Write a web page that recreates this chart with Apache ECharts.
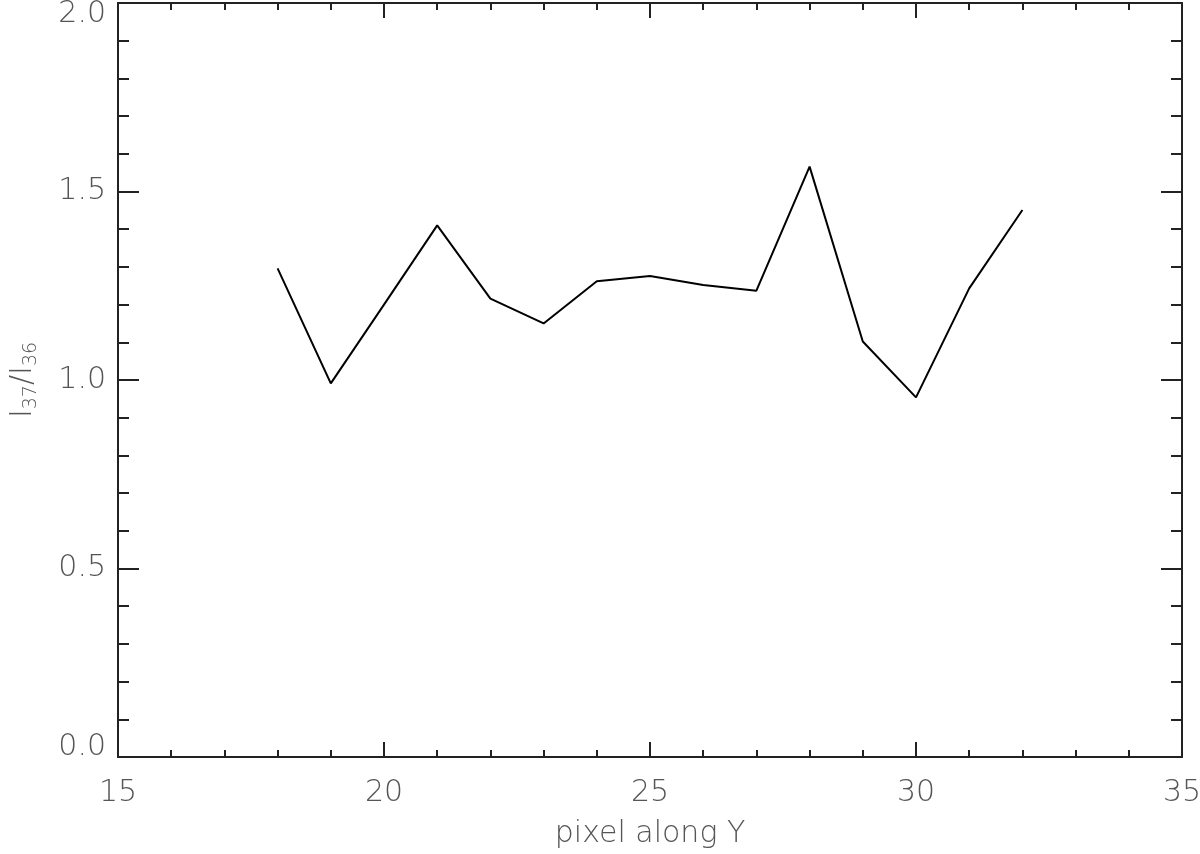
<!DOCTYPE html>
<html>
<head>
<meta charset="utf-8">
<script src="https://cdn.jsdelivr.net/npm/echarts@6/dist/echarts.min.js"></script>
<style>
  html, body { margin: 0; padding: 0; background: #fff; }
  #chart { width: 1200px; height: 854px; }
</style>
</head>
<body>
<div id="chart"></div>
<script>
// pixel position along Y and the I37/I36 intensity ratio
const pixels = [18, 19, 20, 21, 22, 23, 24, 25, 26, 27, 28, 29, 30, 31, 32];
const ratios = [1.296, 0.991, 1.200, 1.410, 1.216, 1.150, 1.262, 1.276, 1.252, 1.237, 1.566, 1.102, 0.954, 1.243, 1.451];

const font = 'DejaVu Sans';
const txt = '#555';
const ink = '#222';

let myChart = echarts.init(document.getElementById('chart'));

const xBase = {
    type: 'value', min: 15, max: 35, interval: 5,
    axisLine: { show: true, onZero: false, lineStyle: { color: ink, width: 2 } },
    axisTick: { show: true, inside: true, length: 15, lineStyle: { color: ink, width: 2 } },
    minorTick: { show: true, splitNumber: 5, length: 7, lineStyle: { color: ink, width: 2 } },
    splitLine: { show: false }
};
const yBase = {
    type: 'value', min: 0, max: 2, interval: 0.5,
    axisLine: { show: true, onZero: false, lineStyle: { color: ink, width: 2 } },
    axisTick: { show: true, inside: true, length: 21, lineStyle: { color: ink, width: 2 } },
    minorTick: { show: true, splitNumber: 5, length: 11, lineStyle: { color: ink, width: 2 } },
    splitLine: { show: false }
};

const lbl = { fontFamily: font, fontWeight: 200, fontSize: 30, color: txt };

myChart.setOption({
    animation: false,
    backgroundColor: '#fff',
    grid: { left: 118, right: 18, top: 3, bottom: 97, containLabel: false, outerBoundsMode: 'none' },
    xAxis: [
        Object.assign({}, xBase, {
            position: 'bottom',
            name: 'pixel along Y', nameLocation: 'middle', nameGap: 62,
            nameTextStyle: lbl,
            axisLabel: Object.assign({ margin: 21 }, lbl)
        }),
        Object.assign({}, xBase, { position: 'top', axisLabel: { show: false } })
    ],
    yAxis: [
        Object.assign({}, yBase, {
            position: 'left',
            name: '{m|I}{s|37}{m|/I}{s|36}', nameLocation: 'middle', nameGap: 80,
            nameTextStyle: {
                color: txt,
                rich: {
                    m: { fontFamily: font, fontWeight: 200, fontSize: 30, lineHeight: 30, color: txt, verticalAlign: 'top' },
                    s: { fontFamily: font, fontWeight: 200, fontSize: 19, lineHeight: 19, color: txt, padding: [17, 0, 0, 0] }
                }
            },
            axisLabel: Object.assign({
                margin: 12,
                formatter: v => {
                    const s = v.toFixed(1);
                    if (v === 2) return '{hi|' + s + '}';
                    if (v === 0) return '{lo|' + s + '}';
                    return s;
                },
                rich: {
                    hi: Object.assign({ lineHeight: 30, padding: [22, 0, 0, 0] }, lbl),
                    lo: Object.assign({ lineHeight: 30, padding: [0, 0, 20, 0] }, lbl)
                }
            }, lbl)
        }),
        Object.assign({}, yBase, { position: 'right', axisLabel: { show: false } })
    ],
    series: [{
        type: 'line',
        xAxisIndex: 0,
        yAxisIndex: 0,
        data: pixels.map((p, i) => [p, ratios[i]]),
        showSymbol: false,
        lineStyle: { color: '#000', width: 2 }
    }]
});
</script>
</body>
</html>
